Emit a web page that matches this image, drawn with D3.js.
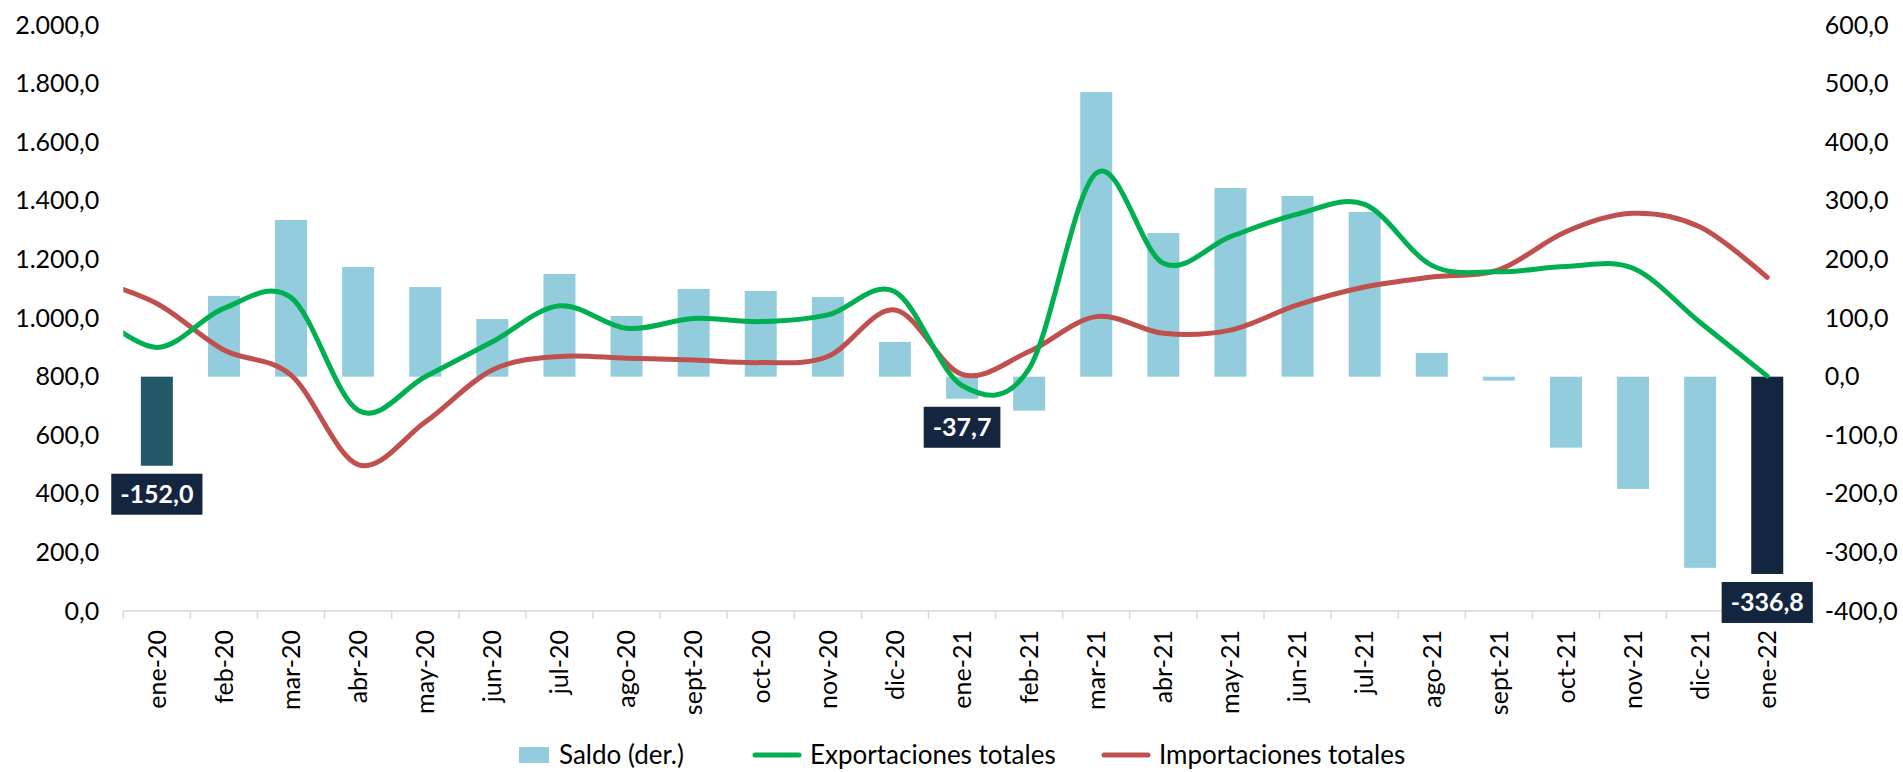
<!DOCTYPE html>
<html>
<head>
<meta charset="utf-8">
<script src="https://cdn.jsdelivr.net/npm/d3@7"></script>
<style>
    body { margin: 0; background: #fff; }
    text { font-family: Lato, "Open Sans", sans-serif; fill: #000; }
</style>
</head>
<body>
<script>
const categories = ["ene-20", "feb-20", "mar-20", "abr-20", "may-20", "jun-20", "jul-20", "ago-20", "sept-20", "oct-20", "nov-20", "dic-20",
    "ene-21", "feb-21", "mar-21", "abr-21", "may-21", "jun-21", "jul-21", "ago-21", "sept-21", "oct-21", "nov-21", "dic-21", "ene-22"];

// saldo, right axis
const saldo = [-152.0, 137.8, 267.5, 187.3, 153.1, 98.5, 175.3, 103.6, 149.7, 146.3, 136.0, 59.2,
    -37.7, -58.0, 485.8, 245.3, 322.0, 308.5, 281.2, 40.5, -6.8, -121.1, -191.6, -326.3, -336.8];

// exports / imports, left axis
const exportaciones = [900, 1033, 1070, 685, 800, 919, 1042, 965, 999, 988, 1011, 1090,
    770, 828, 1495, 1187, 1278, 1355, 1388, 1180, 1158, 1176, 1170, 985, 802];
const importaciones = [1050, 891, 805, 500, 645, 823, 869, 863, 857, 848, 869, 1028,
    808, 886, 1005, 948, 959, 1045, 1106, 1140, 1165, 1295, 1358, 1311, 1139];

// dic-19 values: only the clipped start of both curves shows them
const exportacionesPrev = 1035;
const importacionesPrev = 1135;

const leftTicks = d3.range(0, 2001, 200);
const rightTicks = d3.range(-400, 601, 100);
const labelled = ["ene-20", "ene-21", "ene-22"];

const width = 1903, height = 772;
const plotLeft = 123.3, plotRight = 1800.8, plotTop = 25.2, plotBottom = 611;

const locale = d3.formatLocale({ decimal: ",", thousands: ".", grouping: [3], currency: ["", ""], minus: "-" });
const fmt = locale.format(",.1f");

const svg = d3.select("body")
    .append("svg")
    .attr("width", width)
    .attr("height", height);

const x = d3.scaleBand()
    .domain(categories)
    .range([plotLeft, plotRight]);
const bw = x.bandwidth();

const yL = d3.scaleLinear().domain([0, 2000]).range([plotBottom, plotTop]);
const yR = d3.scaleLinear().domain([-400, 600]).range([plotBottom, plotTop]);

// x position by index, used by the lines (index -1 = dic-19)
const xi = d3.scaleLinear()
    .domain([0, categories.length - 1])
    .range([x(categories[0]) + bw / 2, x(categories[categories.length - 1]) + bw / 2]);

// y axes
const leftAxis = svg.append("g")
    .attr("transform", `translate(${plotLeft},0)`)
    .call(d3.axisLeft(yL).tickValues(leftTicks).tickSize(0).tickPadding(24).tickFormat(fmt));
const rightAxis = svg.append("g")
    .attr("transform", `translate(${plotRight},0)`)
    .call(d3.axisRight(yR).tickValues(rightTicks).tickSize(0).tickPadding(24).tickFormat(fmt));
[leftAxis, rightAxis].forEach(g => {
    g.select(".domain").remove();
    g.selectAll("text").style("font-size", "25px").attr("fill", "#000");
});

// bars
const barColor = d => {
    if (d === "ene-20") return "#215968";
    if (d === "ene-22") return "#13263f";
    return "#93cddd";
};
const barW = bw * 0.477;
svg.append("g")
    .selectAll("rect")
    .data(categories)
    .enter()
    .append("rect")
    .attr("x", d => x(d) + (bw - barW) / 2)
    .attr("width", barW)
    .attr("y", (d, i) => yR(Math.max(0, saldo[i])))
    .attr("height", (d, i) => Math.abs(yR(saldo[i]) - yR(0)))
    .attr("fill", barColor);

// x axis line + ticks at band edges
const xAxis = svg.append("g");
xAxis.append("line")
    .attr("x1", plotLeft).attr("x2", plotRight)
    .attr("y1", plotBottom).attr("y2", plotBottom)
    .attr("stroke", "#d9d9d9").attr("stroke-width", 1.5);
xAxis.selectAll("line.tick")
    .data(categories.map(d => x(d)).concat([plotRight]))
    .enter()
    .append("line")
    .attr("class", "tick")
    .attr("x1", d => d).attr("x2", d => d)
    .attr("y1", plotBottom).attr("y2", plotBottom + 8)
    .attr("stroke", "#d9d9d9").attr("stroke-width", 1.5);
xAxis.selectAll("text")
    .data(categories)
    .enter()
    .append("text")
    .attr("transform", d => `translate(${x(d) + bw / 2},630) rotate(-90)`)
    .attr("text-anchor", "end")
    .attr("dy", "0.35em")
    .style("font-size", "25px")
    .text(d => d);

// lines, clipped to the plot
svg.append("clipPath")
    .attr("id", "plotclip")
    .append("rect")
    .attr("x", plotLeft).attr("y", 0)
    .attr("width", plotRight - plotLeft + 20).attr("height", height);

const line = d3.line()
    .x(d => xi(d[0]))
    .y(d => yL(d[1]))
    .curve(d3.curveCatmullRom.alpha(0));

const series = [
    { name: "Exportaciones totales", prev: exportacionesPrev, values: exportaciones, color: "#00b050" },
    { name: "Importaciones totales", prev: importacionesPrev, values: importaciones, color: "#c0504d" }
];

// imports first so exports sit on top
series.slice().reverse().forEach(s => {
    const pts = [[-1, s.prev]].concat(s.values.map((v, i) => [i, v]));
    svg.append("path")
        .datum(pts)
        .attr("clip-path", "url(#plotclip)")
        .attr("d", line)
        .attr("fill", "none")
        .attr("stroke", s.color)
        .attr("stroke-width", 5)
        .attr("stroke-linecap", "round")
        .attr("stroke-linejoin", "round");
});

// data labels
labelled.forEach(c => {
    const i = categories.indexOf(c);
    const cx = x(c) + bw / 2;
    const top = yR(saldo[i]) + 8;
    const g = svg.append("g");
    const t = g.append("text")
        .attr("x", cx)
        .attr("y", top + 20.5)
        .attr("dy", "0.35em")
        .attr("text-anchor", "middle")
        .style("font-size", "25px")
        .style("font-weight", "bold")
        .style("fill", "#fff")
        .text(fmt(saldo[i]));
    const tw = t.node().getComputedTextLength();
    g.insert("rect", "text")
        .attr("x", cx - tw / 2 - 9)
        .attr("y", top)
        .attr("width", tw + 18)
        .attr("height", 41)
        .attr("fill", "#13253f");
});

// legend
const legend = svg.append("g");
const legendY = 755;
const legendX = [519, 752, 1101];
const items = [{ name: "Saldo (der.)", type: "bar", color: "#93cddd" }]
    .concat(series.map(s => ({ name: s.name, type: "line", color: s.color })));
items.forEach((it, k) => {
    let lx = legendX[k];
    if (it.type === "bar") {
        legend.append("rect")
            .attr("x", lx).attr("y", legendY - 8)
            .attr("width", 30).attr("height", 16)
            .attr("fill", it.color);
        lx += 40;
    } else {
        legend.append("line")
            .attr("x1", lx + 3).attr("x2", lx + 47)
            .attr("y1", legendY).attr("y2", legendY)
            .attr("stroke", it.color).attr("stroke-width", 5)
            .attr("stroke-linecap", "round");
        lx += 58;
    }
    legend.append("text")
        .attr("x", lx).attr("y", legendY)
        .attr("dy", "0.35em")
        .style("font-size", "26px")
        .text(it.name);
});
</script>
</body>
</html>
